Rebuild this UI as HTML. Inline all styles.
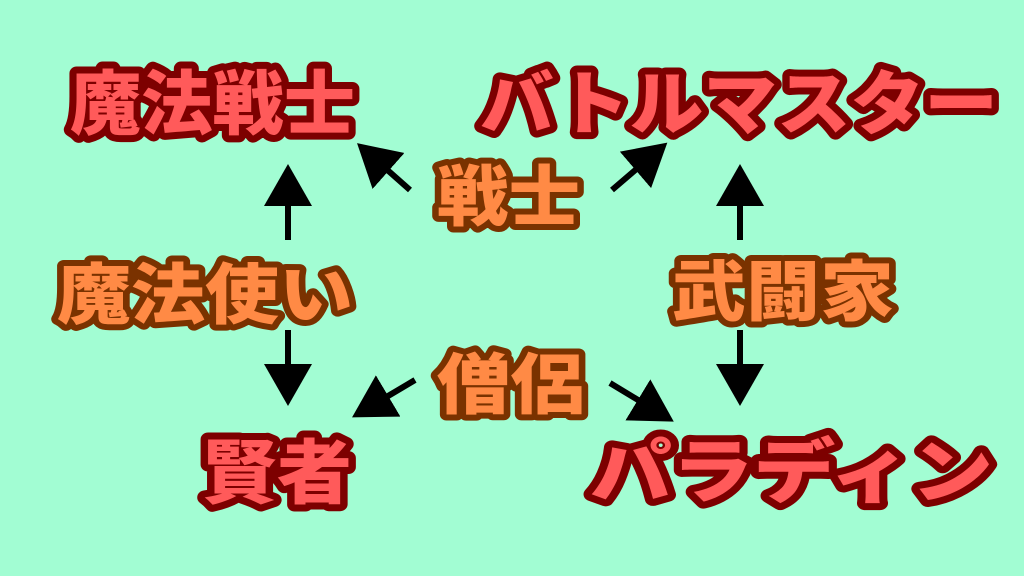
<!DOCTYPE html>
<html><head><meta charset="utf-8"><style>
html,body{margin:0;padding:0;background:#a2fdd3;}
svg{display:block}
text{font-family:"Noto Sans CJK JP","Liberation Sans",sans-serif;font-weight:900;paint-order:stroke;stroke-linejoin:round;dominant-baseline:central;}
.r{fill:#ff5a5a;stroke:#7d0000;stroke-width:14px;font-size:70px;}
.o{fill:#ff8a45;stroke:#7a3200;stroke-width:12px;font-size:66px;}
</style></head><body>
<svg width="1024" height="576" viewBox="0 0 1024 576">
<defs><marker id="a" markerWidth="8" markerHeight="8" refX="1" refY="4" orient="auto" markerUnits="strokeWidth" viewBox="0 0 8 8"><path d="M0,0 L7,4 L0,8 z" fill="#000"/></marker></defs>
<rect width="1024" height="576" fill="#a2fdd3"/>
<g stroke="#000" stroke-width="6" marker-end="url(#a)">
<line x1="410" y1="190" x2="384" y2="167"/>
<line x1="612" y1="190" x2="640" y2="166"/>
<line x1="288" y1="240" x2="288" y2="200"/>
<line x1="288" y1="330" x2="288" y2="370"/>
<line x1="740" y1="240" x2="740" y2="200"/>
<line x1="740" y1="330" x2="740" y2="370"/>
<line x1="415" y1="380" x2="383" y2="399"/>
<line x1="610" y1="383" x2="643" y2="403"/>
</g>
<text class="r" x="70" y="99" textLength="285" lengthAdjust="spacingAndGlyphs">魔法戦士</text>
<text class="r" x="480" y="99" textLength="518" lengthAdjust="spacingAndGlyphs">バトルマスター</text>
<text class="r" x="202" y="468" textLength="150" lengthAdjust="spacingAndGlyphs">賢者</text>
<text class="r" x="590" y="467" textLength="403" lengthAdjust="spacingAndGlyphs">パラディン</text>
<text class="o" x="437" y="192" textLength="143" lengthAdjust="spacingAndGlyphs">戦士</text>
<text class="o" x="57" y="290" textLength="296" lengthAdjust="spacingAndGlyphs">魔法使い</text>
<text class="o" x="672" y="287" textLength="222" lengthAdjust="spacingAndGlyphs">武闘家</text>
<text class="o" x="437" y="380" textLength="147" lengthAdjust="spacingAndGlyphs">僧侶</text>
</svg>
</body></html>
